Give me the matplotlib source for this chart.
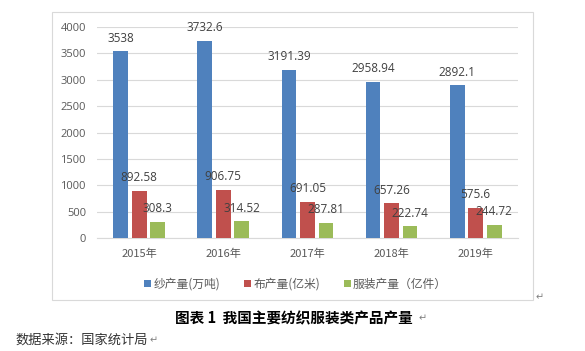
import numpy as np
import matplotlib.pyplot as plt
from matplotlib.patches import Rectangle

plt.rcParams['font.family'] = ['Noto Sans CJK SC', 'DejaVu Sans']

# 数据
years = ['2015年', '2016年', '2017年', '2018年', '2019年']
yarn = [3538, 3732.6, 3191.39, 2958.94, 2892.1]
cloth = [892.58, 906.75, 691.05, 657.26, 575.6]
garment = [308.3, 314.52, 287.81, 222.74, 244.72]
yarn_lbl = ['3538', '3732.6', '3191.39', '2958.94', '2892.1']
cloth_lbl = ['892.58', '906.75', '691.05', '657.26', '575.6']
garment_lbl = ['308.3', '314.52', '287.81', '222.74', '244.72']
names = ['纱产量(万吨)', '布产量(亿米)', '服装产量（亿件）']
colors = ['#4F81BD', '#C0504D', '#9BBB59']

fig = plt.figure(figsize=(5.85, 3.51), dpi=100)

# 图表外框
fig.patches.append(Rectangle((0.089, 0.145), 0.822, 0.821, transform=fig.transFigure,
                             fill=False, edgecolor='#D9D9D9', linewidth=0.8))

ax = fig.add_axes([0.166, 0.322, 0.719, 0.601])
x = np.arange(len(years))
w = 0.175
off = 0.22
for i, (vals, lbls) in enumerate([(yarn, yarn_lbl), (cloth, cloth_lbl), (garment, garment_lbl)]):
    pos = x + (i - 1) * off
    ax.bar(pos, vals, w, color=colors[i], label=names[i], zorder=3)
    for p, v, s in zip(pos, vals, lbls):
        ax.annotate(s, (p, v), xytext=(0, 9.5), textcoords='offset points',
                    ha='center', va='center', fontsize=8.5, color='#404040',
                    family=['Open Sans', 'DejaVu Sans'], zorder=4)

ax.set_xlim(-0.5, 4.5)
ax.set_ylim(0, 4000)
ax.set_yticks(np.arange(0, 4001, 500))
ax.yaxis.grid(True, color='#D9D9D9', linewidth=0.8, zorder=0)
for s in ['top', 'right', 'left']:
    ax.spines[s].set_visible(False)
ax.spines['bottom'].set_color('#D9D9D9')
ax.tick_params(length=0, colors='#595959', labelsize=8)
ax.tick_params(axis='y', pad=8)
ax.tick_params(axis='x', pad=8)
ax.set_xticks(x)
ax.set_xticklabels(years)
for t in ax.get_yticklabels():
    t.set_family(['Open Sans', 'DejaVu Sans'])

leg = fig.legend(loc='center', bbox_to_anchor=(0.505, 0.19), ncol=3, frameon=False,
                 fontsize=8.5, handlelength=0.6, handleheight=0.6, handletextpad=0.2,
                 columnspacing=2.0, labelcolor='#595959')

fig.text(0.922, 0.152, '↵', fontsize=7, color='#808080', ha='center', va='center')
fig.text(0.502, 0.093, '图表 1  我国主要纺织服装类产品产量', fontsize=10.5, fontweight='bold',
         ha='center', va='center', color='black')
fig.text(0.716, 0.093, '↵', fontsize=7, color='#808080', ha='left', va='center')
fig.text(0.027, 0.03, '数据来源：国家统计局', fontsize=9.5, ha='left', va='center', color='#333333')
fig.text(0.256, 0.03, '↵', fontsize=7, color='#808080', ha='left', va='center')

fig.savefig('out.png', dpi=100)
